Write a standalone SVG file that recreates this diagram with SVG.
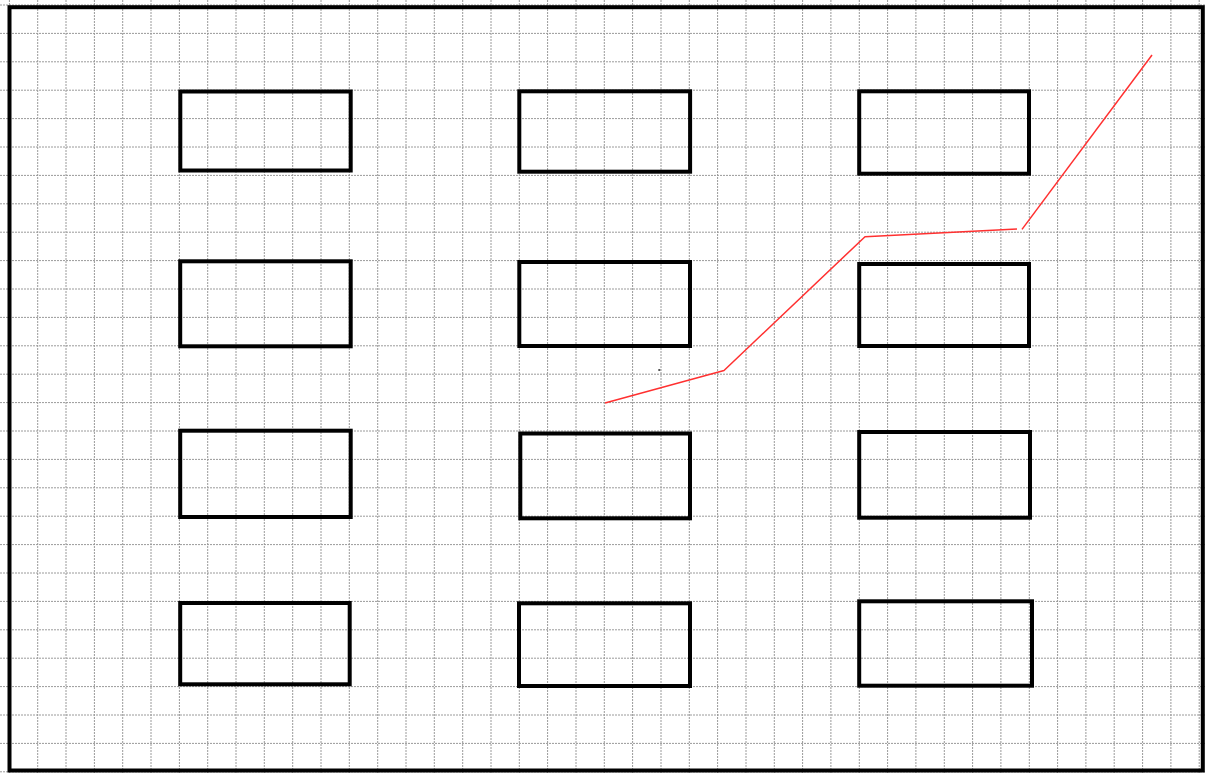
<svg xmlns="http://www.w3.org/2000/svg" width="1216" height="773" viewBox="0 0 1216 773">
<style>
.grid{fill:none;stroke:#9a9a9a;stroke-width:1;stroke-dasharray:2,1}
.box{fill:none;stroke:#000;stroke-width:4}
.frame{fill:none;stroke:#000;stroke-width:4}
.conn{fill:none;stroke:#ff3030;stroke-width:1.5;stroke-linejoin:round}
</style>
<rect x="0" y="0" width="1216" height="773" fill="#fff"/>
<g id="grid">
<path class="grid" d="M9.4 0V773M37.7 0V773M66 0V773M94.4 0V773M122.7 0V773M151 0V773M179.4 0V773M207.7 0V773M236 0V773M264.3 0V773M292.7 0V773M321 0V773M349.3 0V773M377.7 0V773M406 0V773M434.3 0V773M462.7 0V773M491 0V773M519.3 0V773M547.6 0V773M576 0V773M604.3 0V773M632.6 0V773M661 0V773M689.3 0V773M717.6 0V773M746 0V773M774.3 0V773M802.6 0V773M830.9 0V773M859.3 0V773M887.6 0V773M915.9 0V773M944.3 0V773M972.6 0V773M1000.9 0V773M1029.3 0V773M1057.6 0V773M1085.9 0V773M1114.2 0V773M1142.6 0V773M1170.9 0V773M1199.2 0V773"/>
<path class="grid" d="M0 5H1205M0 33.4H1205M0 61.8H1205M0 90.2H1205M0 118.6H1205M0 147H1205M0 175.4H1205M0 203.8H1205M0 232.2H1205M0 260.6H1205M0 289H1205M0 317.4H1205M0 345.8H1205M0 374.2H1205M0 402.6H1205M0 431H1205M0 459.4H1205M0 487.8H1205M0 516.2H1205M0 544.6H1205M0 573H1205M0 601.4H1205M0 629.8H1205M0 658.2H1205M0 686.6H1205M0 715H1205M0 743.4H1205M0 771.8H1205"/>
</g>
<rect id="frame" class="frame" x="9.5" y="7.2" width="1193.3" height="763.3"/>
<g id="node-r1c1"><rect class="box" x="180.3" y="91.5" width="170.4" height="79"/></g>
<g id="node-r1c2"><rect class="box" x="519.3" y="91.3" width="170.8" height="80.4"/></g>
<g id="node-r1c3"><rect class="box" x="859.2" y="91.3" width="169.8" height="82.4"/></g>
<g id="node-r2c1"><rect class="box" x="180.2" y="261.3" width="170.5" height="85"/></g>
<g id="node-r2c2"><rect class="box" x="519.3" y="262" width="170.7" height="84"/></g>
<g id="node-r2c3"><rect class="box" x="859.2" y="264" width="169.8" height="82"/></g>
<g id="node-r3c1"><rect class="box" x="180.2" y="430.7" width="170.5" height="86.3"/></g>
<g id="node-r3c2"><rect class="box" x="520.3" y="433.5" width="169.7" height="84.8"/></g>
<g id="node-r3c3"><rect class="box" x="859.2" y="432" width="170.8" height="85.7"/></g>
<g id="node-r4c1"><rect class="box" x="180.2" y="603" width="169.5" height="81.3"/></g>
<g id="node-r4c2"><rect class="box" x="519" y="603.3" width="171" height="82.7"/></g>
<g id="node-r4c3"><rect class="box" x="859.2" y="601.3" width="172.8" height="84.4"/></g>
<g id="connectors">
<polyline class="conn" points="605,403 724,370.5 865,236.7 1017,229"/>
<polyline class="conn" points="1022,229.4 1152,55"/>
</g>
<rect x="658.3" y="369" width="2" height="2" fill="#555"/>
</svg>
